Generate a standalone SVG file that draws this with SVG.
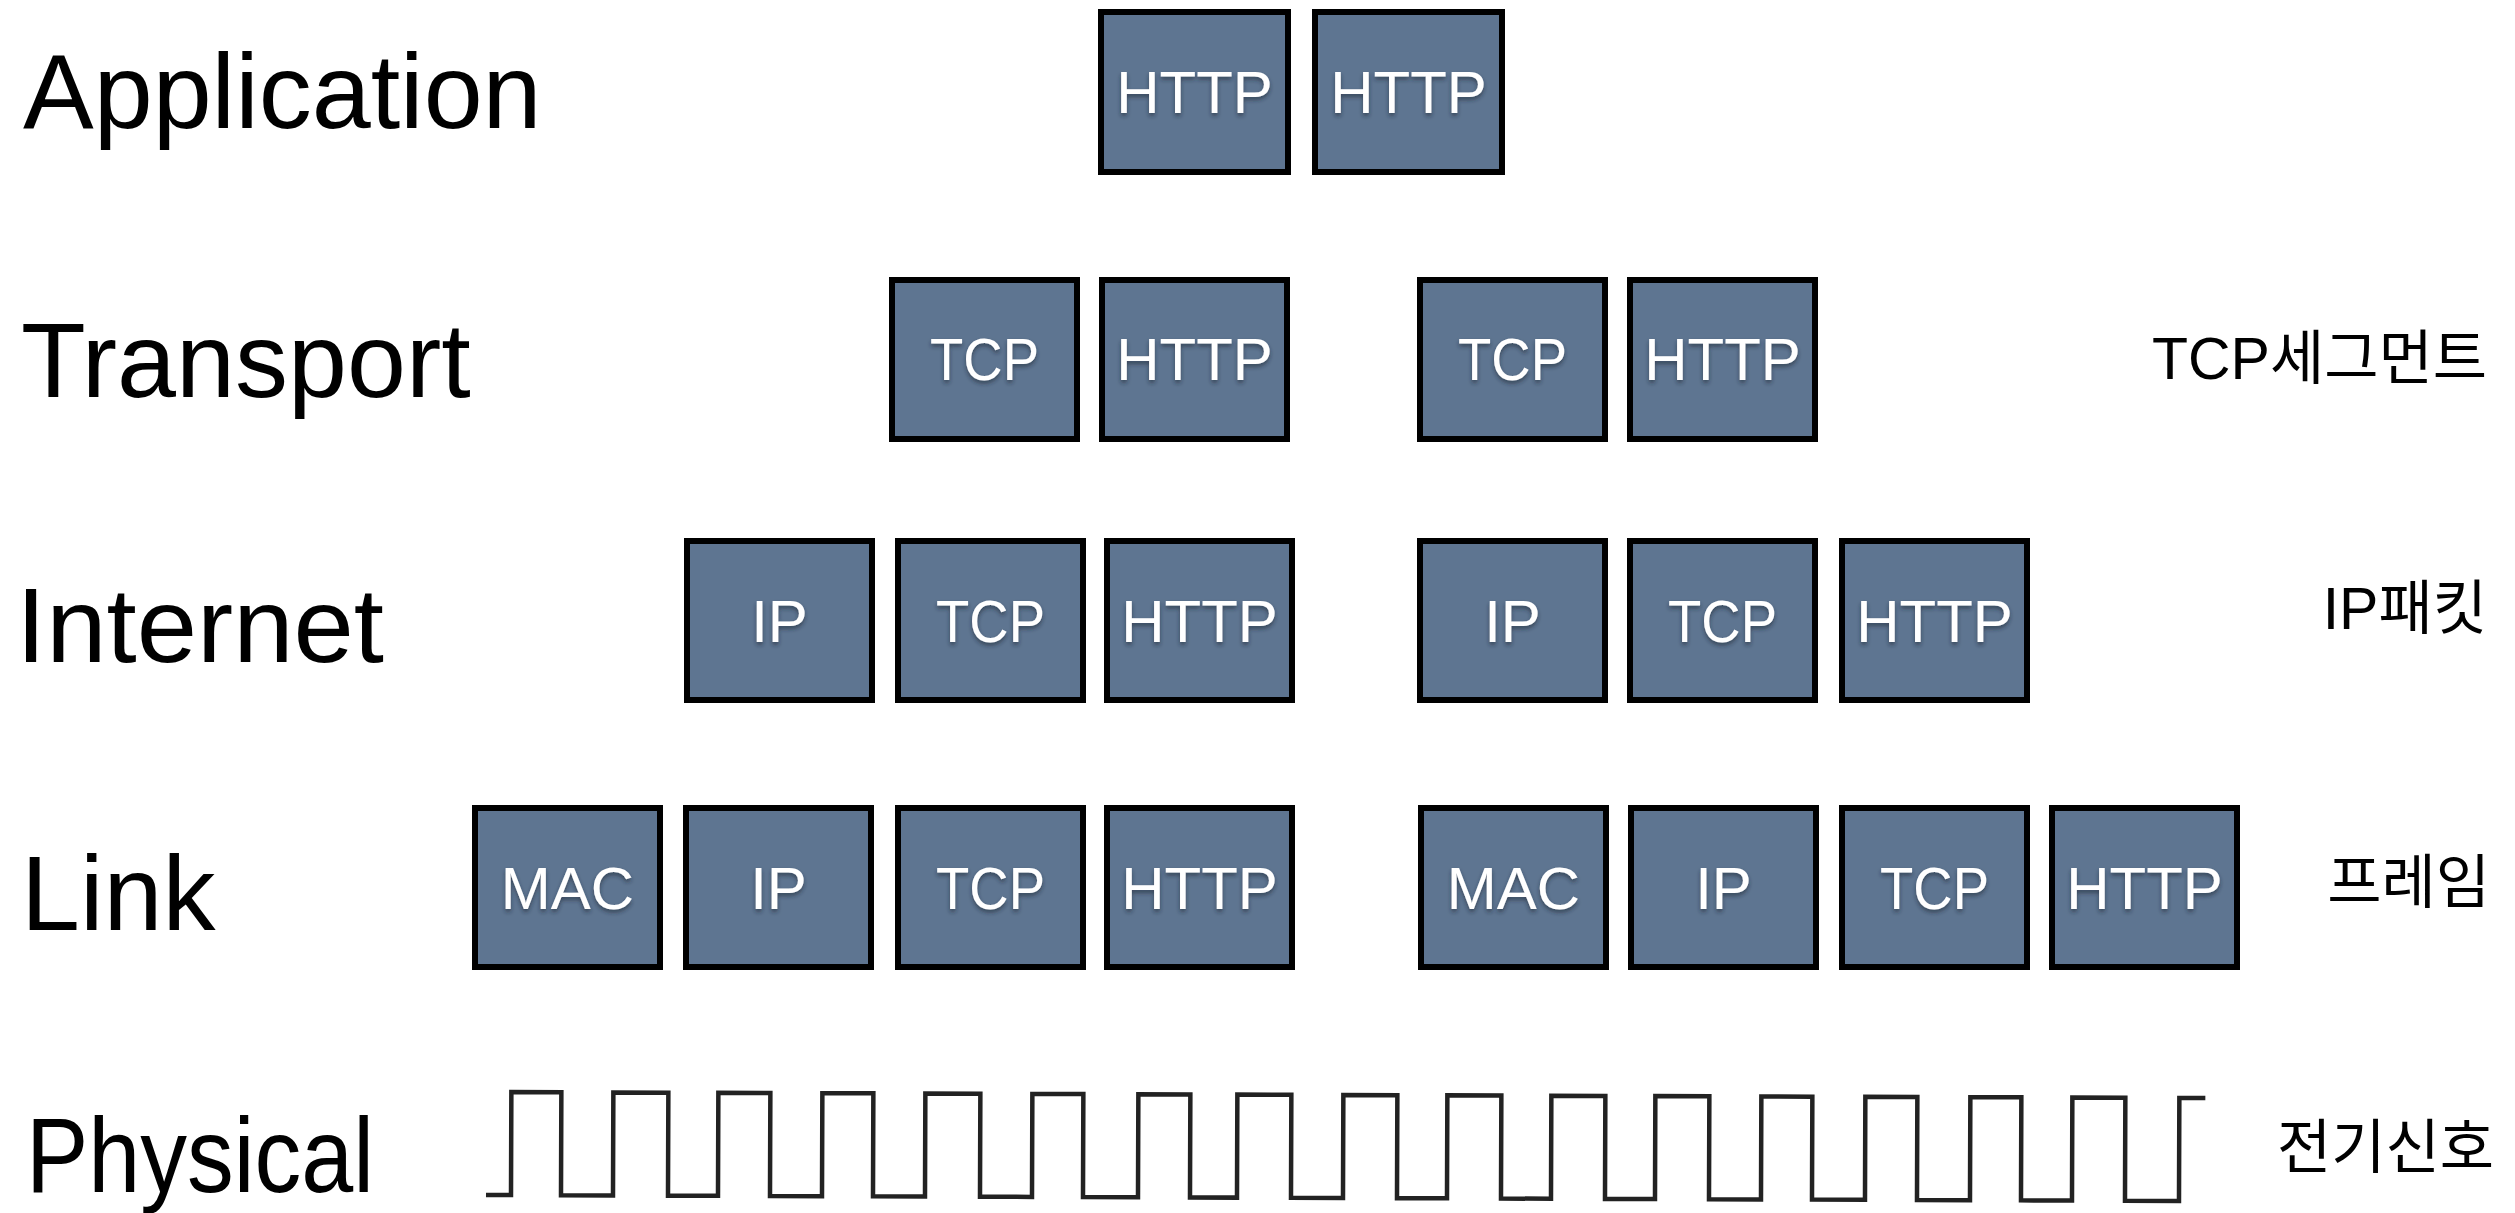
<svg xmlns="http://www.w3.org/2000/svg" width="2515" height="1213" viewBox="0 0 2515 1213">
<defs>
<style>
.layer{font-family:"Liberation Sans",Arial,sans-serif;font-size:106px;fill:#000}
.box{fill:#5e7591;stroke:#000;stroke-width:6}
.lbl{font-family:"Liberation Sans",Arial,sans-serif;font-size:60px;fill:#fff;text-anchor:middle;filter:url(#sh)}
.kr{font-family:"Liberation Sans","Noto Sans CJK KR",sans-serif;font-size:59px;fill:#000;text-anchor:end}
.wave{fill:none;stroke:#222;stroke-width:4.5;stroke-linejoin:miter}
</style>
<filter id="sh" x="-20%" y="-30%" width="140%" height="160%">
<feDropShadow dx="0" dy="3" stdDeviation="2" flood-color="#1c2633" flood-opacity="0.6"/>
</filter>
</defs>
<rect width="2515" height="1213" fill="#fff"/>

<g id="layer-labels">
<text class="layer" x="23" y="128">Application</text>
<text class="layer" x="21" y="397">Transport</text>
<text class="layer" x="16" y="662" textLength="368" lengthAdjust="spacingAndGlyphs">Internet</text>
<text class="layer" x="21" y="930">Link</text>
<text class="layer" x="26" y="1192" textLength="348" lengthAdjust="spacingAndGlyphs">Physical</text>
</g>

<g id="app-http-1"><rect class="box" x="1101" y="12" width="187" height="160"/><text class="lbl" x="1194.5" y="113">HTTP</text></g>
<g id="app-http-2"><rect class="box" x="1315" y="12" width="187" height="160"/><text class="lbl" x="1408.5" y="113">HTTP</text></g>

<g id="tr-tcp-1"><rect class="box" x="892" y="280" width="185" height="159"/><text class="lbl" x="984.5" y="380" textLength="109" lengthAdjust="spacingAndGlyphs">TCP</text></g>
<g id="tr-http-1"><rect class="box" x="1102" y="280" width="185" height="159"/><text class="lbl" x="1194.5" y="380">HTTP</text></g>
<g id="tr-tcp-2"><rect class="box" x="1420" y="280" width="185" height="159"/><text class="lbl" x="1512.5" y="380" textLength="109" lengthAdjust="spacingAndGlyphs">TCP</text></g>
<g id="tr-http-2"><rect class="box" x="1630" y="280" width="185" height="159"/><text class="lbl" x="1722.5" y="380">HTTP</text></g>

<g id="in-ip-1"><rect class="box" x="687" y="541" width="185" height="159"/><text class="lbl" x="779.5" y="642">IP</text></g>
<g id="in-tcp-1"><rect class="box" x="898" y="541" width="185" height="159"/><text class="lbl" x="990.5" y="642" textLength="109" lengthAdjust="spacingAndGlyphs">TCP</text></g>
<g id="in-http-1"><rect class="box" x="1107" y="541" width="185" height="159"/><text class="lbl" x="1199.5" y="642">HTTP</text></g>
<g id="in-ip-2"><rect class="box" x="1420" y="541" width="185" height="159"/><text class="lbl" x="1512.5" y="642">IP</text></g>
<g id="in-tcp-2"><rect class="box" x="1630" y="541" width="185" height="159"/><text class="lbl" x="1722.5" y="642" textLength="109" lengthAdjust="spacingAndGlyphs">TCP</text></g>
<g id="in-http-2"><rect class="box" x="1842" y="541" width="185" height="159"/><text class="lbl" x="1934.5" y="642">HTTP</text></g>

<g id="ln-mac-1"><rect class="box" x="475" y="808" width="185" height="159"/><text class="lbl" x="567.5" y="909">MAC</text></g>
<g id="ln-ip-1"><rect class="box" x="686" y="808" width="185" height="159"/><text class="lbl" x="778.5" y="909">IP</text></g>
<g id="ln-tcp-1"><rect class="box" x="898" y="808" width="185" height="159"/><text class="lbl" x="990.5" y="909" textLength="109" lengthAdjust="spacingAndGlyphs">TCP</text></g>
<g id="ln-http-1"><rect class="box" x="1107" y="808" width="185" height="159"/><text class="lbl" x="1199.5" y="909">HTTP</text></g>
<g id="ln-mac-2"><rect class="box" x="1421" y="808" width="185" height="159"/><text class="lbl" x="1513.5" y="909">MAC</text></g>
<g id="ln-ip-2"><rect class="box" x="1631" y="808" width="185" height="159"/><text class="lbl" x="1723.5" y="909">IP</text></g>
<g id="ln-tcp-2"><rect class="box" x="1842" y="808" width="185" height="159"/><text class="lbl" x="1934.5" y="909" textLength="109" lengthAdjust="spacingAndGlyphs">TCP</text></g>
<g id="ln-http-2"><rect class="box" x="2052" y="808" width="185" height="159"/><text class="lbl" x="2144.5" y="909">HTTP</text></g>

<g id="right-labels">
<text class="kr" x="2487" y="379">TCP세그먼트</text>
<text class="kr" x="2487" y="629">IP패킷</text>
<text class="kr" x="2490" y="903">프레임</text>
<text class="kr" x="2494" y="1168">전기신호</text>
</g>

<g id="signal">
<path class="wave" transform="rotate(0.2 486 1195)" d="M486,1195 H511 V1092 H561 V1195 H613 V1092 H668 V1195 H718 V1092 H770 V1195 H822 V1092 H873 V1195 H925 V1092 H980 V1195 H1032 V1092 H1083 V1195 H1138 V1092 H1190 V1195 H1237 V1092 H1291 V1195 H1343 V1092 H1397 V1195 H1447 V1092 H1501 V1195 H1551 V1092 H1605 V1195 H1655 V1092 H1709 V1195 H1761 V1092 H1812 V1195 H1865 V1092 H1917 V1195 H1970 V1092 H2021 V1195 H2072 V1092 H2125 V1195 H2179 V1092 H2205"/>
</g>

<g id="connectors"></g>
</svg>
